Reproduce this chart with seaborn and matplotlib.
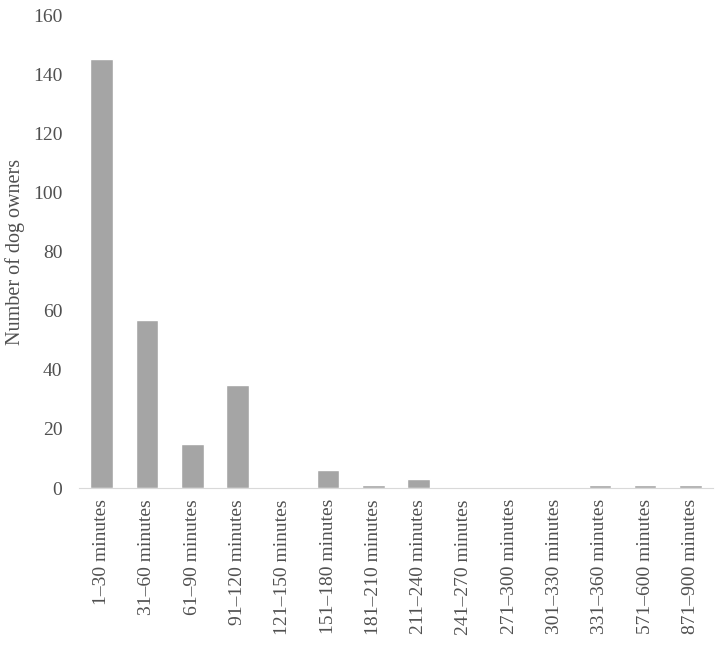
import numpy as np
import pandas as pd
import matplotlib
matplotlib.use("Agg")
import matplotlib.pyplot as plt
import seaborn as sns

categories = ["1–30 minutes", "31–60 minutes", "61–90 minutes", "91–120 minutes",
              "121–150 minutes", "151–180 minutes", "181–210 minutes", "211–240 minutes",
              "241–270 minutes", "271–300 minutes", "301–330 minutes", "331–360 minutes",
              "571–600 minutes", "871–900 minutes"]
owners = [145, 57, 15, 35, 0, 6, 1, 3, 0, 0, 0, 1, 1, 1]

df = pd.DataFrame({"duration": categories, "owners": owners})

sns.set_style("white")
plt.rcParams["font.family"] = ["Liberation Serif", "DejaVu Serif"]

fig = plt.figure(figsize=(7.21, 6.45), dpi=100)
ax = fig.add_axes([0.1096, 0.2434, 0.8794, 0.7333])

sns.barplot(data=df, x="duration", y="owners", color="#a5a5a5", width=0.5,
            saturation=1, ax=ax)

ax.set_ylim(0, 160)
ax.set_yticks(range(0, 161, 20))
ax.set_xlim(-0.5, len(categories) - 0.5)
ax.set_xlabel("")
ax.set_ylabel("Number of dog owners", fontsize=14.5, color="#505050", labelpad=6)
ax.tick_params(axis="y", length=0, labelsize=14, labelcolor="#505050", pad=12)
ax.tick_params(axis="x", which="major", length=0, labelsize=14, labelcolor="#505050",
               labelrotation=90, pad=8)
ax.set_xticks(np.arange(-0.5, len(categories), 1), minor=True)
ax.tick_params(axis="x", which="minor", length=6, color="#d9d9d9", width=1)

for side in ["top", "right", "left"]:
    ax.spines[side].set_visible(False)
ax.spines["bottom"].set_color("#d9d9d9")

fig.savefig("out.png", dpi=100)
